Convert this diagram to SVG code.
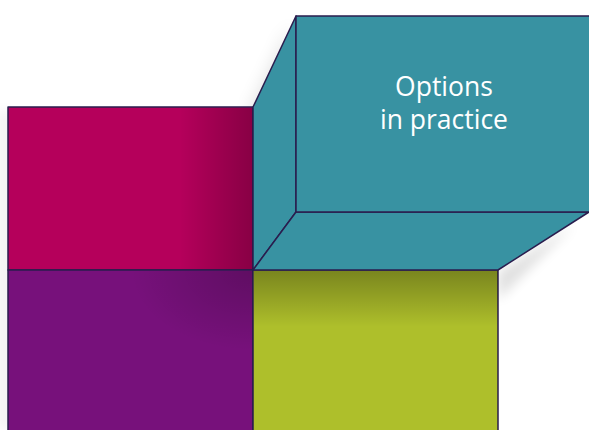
<svg xmlns="http://www.w3.org/2000/svg" width="589" height="430" viewBox="0 0 589 430">
<defs>
<style>
.edge{stroke:#2a1d4e;stroke-width:1.5;stroke-linejoin:round}
.lbl{font-family:"Open Sans","Noto Sans",sans-serif;font-size:26.5px;fill:#ffffff;text-anchor:middle}
</style>
<filter id="blur" x="-50%" y="-50%" width="200%" height="200%"><feGaussianBlur stdDeviation="9"/></filter>
<filter id="blur2" x="-50%" y="-50%" width="200%" height="200%"><feGaussianBlur stdDeviation="6"/></filter>
<linearGradient id="gMag" x1="0" y1="0" x2="1" y2="0">
<stop offset="0" stop-color="#000" stop-opacity="0"/>
<stop offset="0.7" stop-color="#000" stop-opacity="0"/>
<stop offset="1" stop-color="#000" stop-opacity="0.25"/>
</linearGradient>
<radialGradient id="gPur" cx="1" cy="0" r="0.5">
<stop offset="0" stop-color="#000" stop-opacity="0.2"/>
<stop offset="1" stop-color="#000" stop-opacity="0"/>
</radialGradient>
<linearGradient id="gYel" x1="0" y1="0" x2="0" y2="1">
<stop offset="0" stop-color="#000" stop-opacity="0.3"/>
<stop offset="0.35" stop-color="#000" stop-opacity="0"/>
</linearGradient>
</defs>
<rect width="589" height="430" fill="#ffffff"/>
<polygon points="250,112 292,24 292,212 250,268" fill="#000" opacity="0.12" filter="url(#blur)"/>
<polygon points="498,272 575,224 498,300" fill="#000" opacity="0.12" filter="url(#blur2)"/>
<polygon points="2,110 8,110 8,430 2,430" fill="#000" opacity="0.1" filter="url(#blur2)"/>
<g id="magenta">
<rect x="8" y="107" width="245" height="163" fill="#b5005b" class="edge"/>
<rect x="9" y="108" width="244" height="162" fill="url(#gMag)"/>
</g>
<g id="purple">
<rect x="8" y="270" width="245" height="165" fill="#77117b" class="edge"/>
<rect x="9" y="271" width="244" height="159" fill="url(#gPur)"/>
</g>
<g id="yellow">
<rect x="253" y="270" width="245" height="165" fill="#aebf2b" class="edge"/>
<rect x="254" y="271" width="244" height="159" fill="url(#gYel)"/>
</g>
<g id="options-box">
<polygon points="253,107 296,16 296,212 253,270" fill="#3892a2" class="edge"/>
<polygon points="253,270 296,212 589,212 498,270" fill="#3892a2" class="edge"/>
<rect x="296" y="16" width="296" height="196" fill="#3892a2" class="edge"/>
<text class="lbl" x="444" y="96">Options</text>
<text class="lbl" x="444" y="129">in practice</text>
</g>
<g id="connectors"></g>
</svg>
